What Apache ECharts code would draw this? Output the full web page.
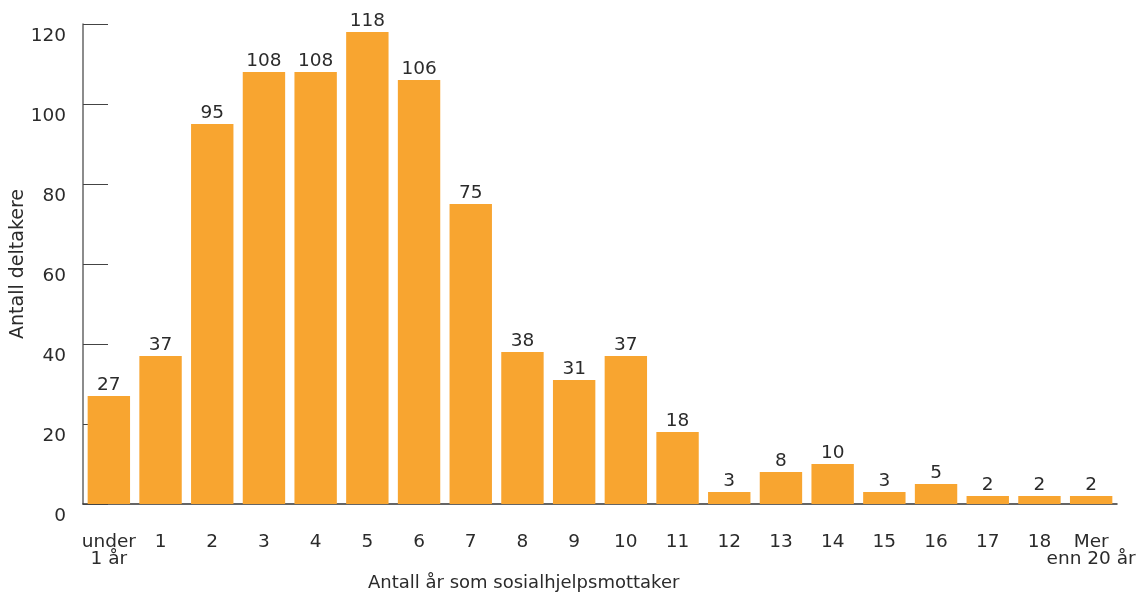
<!DOCTYPE html>
<html>
<head>
<meta charset="utf-8">
<script src="https://cdn.jsdelivr.net/npm/echarts@6/dist/echarts.min.js"></script>
<style>
  html, body { margin: 0; padding: 0; background: #fff; }
  #chart { width: 1139px; height: 595px; }
</style>
</head>
<body>
<div id="chart"></div>
<script>
// Antall deltakere fordelt på antall år som sosialhjelpsmottaker
const categories = ['under\n1 år', '1', '2', '3', '4', '5', '6', '7', '8', '9', '10',
  '11', '12', '13', '14', '15', '16', '17', '18', 'Mer\nenn 20 år'];
const deltakere = [27, 37, 95, 108, 108, 118, 106, 75, 38, 31, 37, 18, 3, 8, 10, 3, 5, 2, 2, 2];
const yTicks = [0, 20, 40, 60, 80, 100, 120];

const FONT = 'DejaVu Sans';
const TEXT = '#2b2b2b';

const chart = echarts.init(document.getElementById('chart'), null, { renderer: 'canvas' });
chart.setOption({
  animation: false,
  textStyle: { fontFamily: FONT },
  grid: {
    left: 83, right: 22, top: 24, bottom: 91,
    containLabel: false,
    outerBoundsMode: 'none'
  },
  xAxis: {
    type: 'category',
    data: categories,
    boundaryGap: true,
    axisLine: { lineStyle: { color: '#333', width: 1.5 } },
    axisTick: { inside: true, length: 11, lineStyle: { color: '#444', width: 1.2 } },
    axisLabel: {
      interval: 0,
      margin: 30,
      verticalAlign: 'top',
      fontSize: 18.5,
      lineHeight: 17,
      color: TEXT,
      fontFamily: FONT,
      hideOverlap: false
    }
  },
  yAxis: {
    type: 'value',
    min: yTicks[0],
    max: yTicks[yTicks.length - 1],
    interval: 20,
    name: 'Antall deltakere',
    nameLocation: 'middle',
    nameGap: 55,
    nameMoveOverlap: false,
    nameTextStyle: { fontSize: 19, color: TEXT, fontFamily: FONT },
    splitLine: { show: false },
    axisLine: { show: true, lineStyle: { color: '#666', width: 1.5 } },
    axisTick: { show: true, inside: true, length: 25, lineStyle: { color: '#444' } },
    axisLabel: {
      margin: 17,
      verticalAlign: 'top',
      fontSize: 18.5,
      lineHeight: 24,
      color: TEXT,
      fontFamily: FONT
    }
  },
  series: [{
    type: 'bar',
    data: deltakere,
    barCategoryGap: '18%',
    itemStyle: { color: '#F8A530' },
    label: {
      show: true,
      position: 'top',
      distance: 1,
      fontSize: 18.5,
      color: TEXT,
      fontFamily: FONT
    }
  }],
  graphic: [{
    type: 'text',
    left: 368,
    top: 574,
    style: {
      text: 'Antall år som sosialhjelpsmottaker',
      font: '18px "DejaVu Sans"',
      fill: TEXT
    }
  }]
});
</script>
</body>
</html>
